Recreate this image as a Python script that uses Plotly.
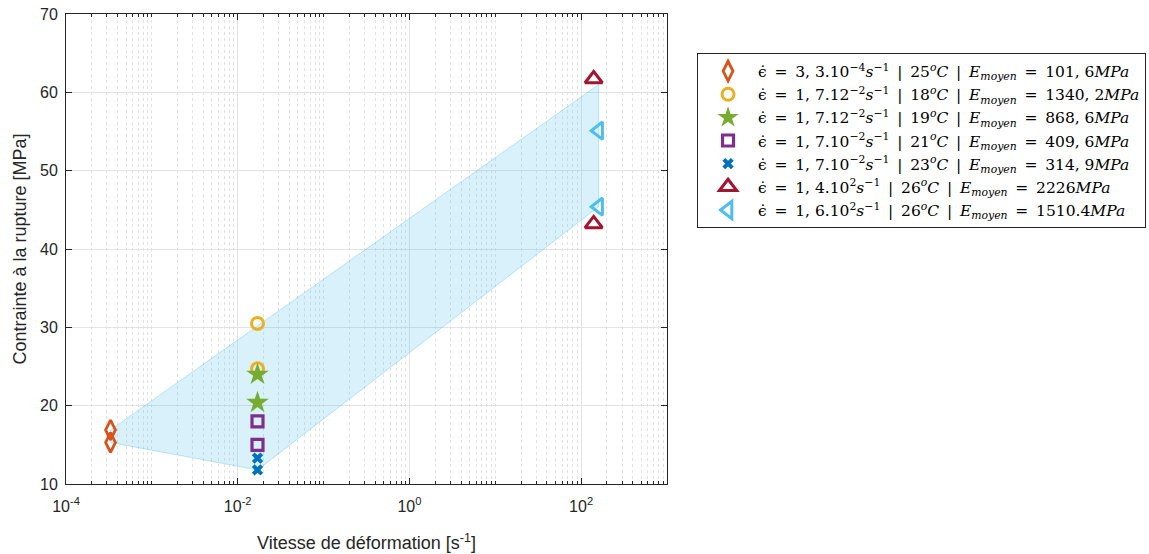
import plotly.graph_objects as go

# ---- data ----
x_diamond = [3.3e-4, 3.3e-4]
y_diamond = [16.9, 15.3]
x_circle = [1.7e-2, 1.7e-2]
y_circle = [30.5, 24.7]
x_star = [1.7e-2, 1.7e-2]
y_star = [24.0, 20.4]
x_square = [1.7e-2, 1.7e-2]
y_square = [18.0, 15.0]
x_cross = [1.7e-2, 1.7e-2]
y_cross = [13.3, 11.8]
x_tri_up = [1.4e2, 1.4e2]
y_tri_up = [61.7, 43.2]
x_tri_left = [1.6e2, 1.6e2]
y_tri_left = [55.1, 45.4]

# envelope polygon
x_env = [3.3e-4, 1.6e2, 1.6e2, 1.7e-2, 3.3e-4, 3.3e-4]
y_env = [16.9, 61.0, 45.4, 11.8, 15.3, 16.9]

S = "\u2002"  # en space (math-like spacing)
rates = ["3, 3.10<sup>−4</sup>", "1, 7.12<sup>−2</sup>", "1, 7.12<sup>−2</sup>", "1, 7.10<sup>−2</sup>",
         "1, 7.10<sup>−2</sup>", "1, 4.10<sup>2</sup>", "1, 6.10<sup>2</sup>"]
temps = ["25", "18", "19", "21", "23", "26", "26"]
moduli = ["101, 6", "1340, 2", "868, 6", "409, 6", "314, 9", "2226", "1510.4"]

labels = [
    f"ϵ̇{S}={S}{r}<i>s</i><sup>−1</sup>{S}|{S}{t}<sup><i>o</i></sup><i>C</i>{S}|{S}"
    f"<i>E</i><sub><i>moyen</i></sub>{S}={S}{m}<i>MPa</i>"
    for r, t, m in zip(rates, temps, moduli)
]

x_tickvals = [1e-4, 1e-2, 1e0, 1e2]
x_ticktext = ["10<sup>-4</sup>", "10<sup>-2</sup>", "10<sup>0</sup>", "10<sup>2</sup>"]
y_tickvals = [10, 20, 30, 40, 50, 60, 70]

colors = ["#D95319", "#EDB120", "#77AC30", "#7E2F8E", "#0072BD", "#A2142F", "#4DBEEE"]

fig = go.Figure()

fig.add_trace(go.Scatter(
    x=x_env, y=y_env, mode="lines", fill="toself",
    fillcolor="rgba(77,190,238,0.22)",
    line=dict(color="rgba(77,190,238,0.35)", width=1),
    showlegend=False, hoverinfo="skip"))

series = [
    (x_diamond, y_diamond, "diamond-tall-open", 14, 2.8),
    (x_circle, y_circle, "circle-open", 12, 3),
    (x_star, y_star, "star", 17, 0),
    (x_square, y_square, "square-open", 11, 3.2),
    (x_cross, y_cross, "x", 10, 0),
    (x_tri_up, y_tri_up, "triangle-up-open", 15, 3),
    (x_tri_left, y_tri_left, "triangle-left-open", 15, 3),
]

for (xs, ys, sym, size, lw), col, lab in zip(series, colors, labels):
    fig.add_trace(go.Scatter(
        x=xs, y=ys, mode="markers", name=lab,
        marker=dict(symbol=sym, size=size, color=col,
                    line=dict(color=col, width=lw))))

minor_vals = []
for d in range(-4, 3):
    for k in range(1, 10):
        v = k * 10.0 ** d
        if not any(abs(v - t) / t < 1e-9 for t in x_tickvals):
            minor_vals.append(v)
minor_vals.append(1e3)

axis_common = dict(
    showline=True, linecolor="#262626", linewidth=1, mirror="ticks",
    ticks="inside", ticklen=6, tickcolor="#262626",
    tickfont=dict(family="Liberation Sans, Arial", size=16, color="#262626"),
    showgrid=True, gridcolor="#e3e3e3", gridwidth=1, zeroline=False,
)

fig.update_xaxes(
    type="log", range=[-4, 3], tickvals=x_tickvals, ticktext=x_ticktext,
    ticklabelstandoff=8,
    minor=dict(tickvals=minor_vals, ticks="inside", ticklen=3, tickcolor="#262626",
               showgrid=True, gridcolor="#e2e2e2", griddash="dot", gridwidth=1),
    title=dict(text="Vitesse de déformation [s<sup>-1</sup>]",
               font=dict(family="Liberation Sans, Arial", size=18, color="#262626"),
               standoff=22),
    **axis_common)
fig.update_yaxes(
    range=[10, 70], tickvals=y_tickvals, ticklabelstandoff=4,
    title=dict(text="Contrainte à la rupture [MPa]",
               font=dict(family="Liberation Sans, Arial", size=18, color="#262626"),
               standoff=8),
    **axis_common)

fig.update_layout(
    width=1149, height=554,
    margin=dict(l=66, r=482, t=14, b=70, autoexpand=False),
    paper_bgcolor="white", plot_bgcolor="white",
    legend=dict(x=1.05, y=0.916, xanchor="left", yanchor="top",
                bordercolor="#262626", borderwidth=1, bgcolor="white",
                itemwidth=50, tracegroupgap=0,
                font=dict(family="DejaVu Serif, Liberation Serif", size=15.5, color="black")),
)

fig.write_html("out.html", config={"displayModeBar": False},
               post_script="document.body.style.margin='0px';")
